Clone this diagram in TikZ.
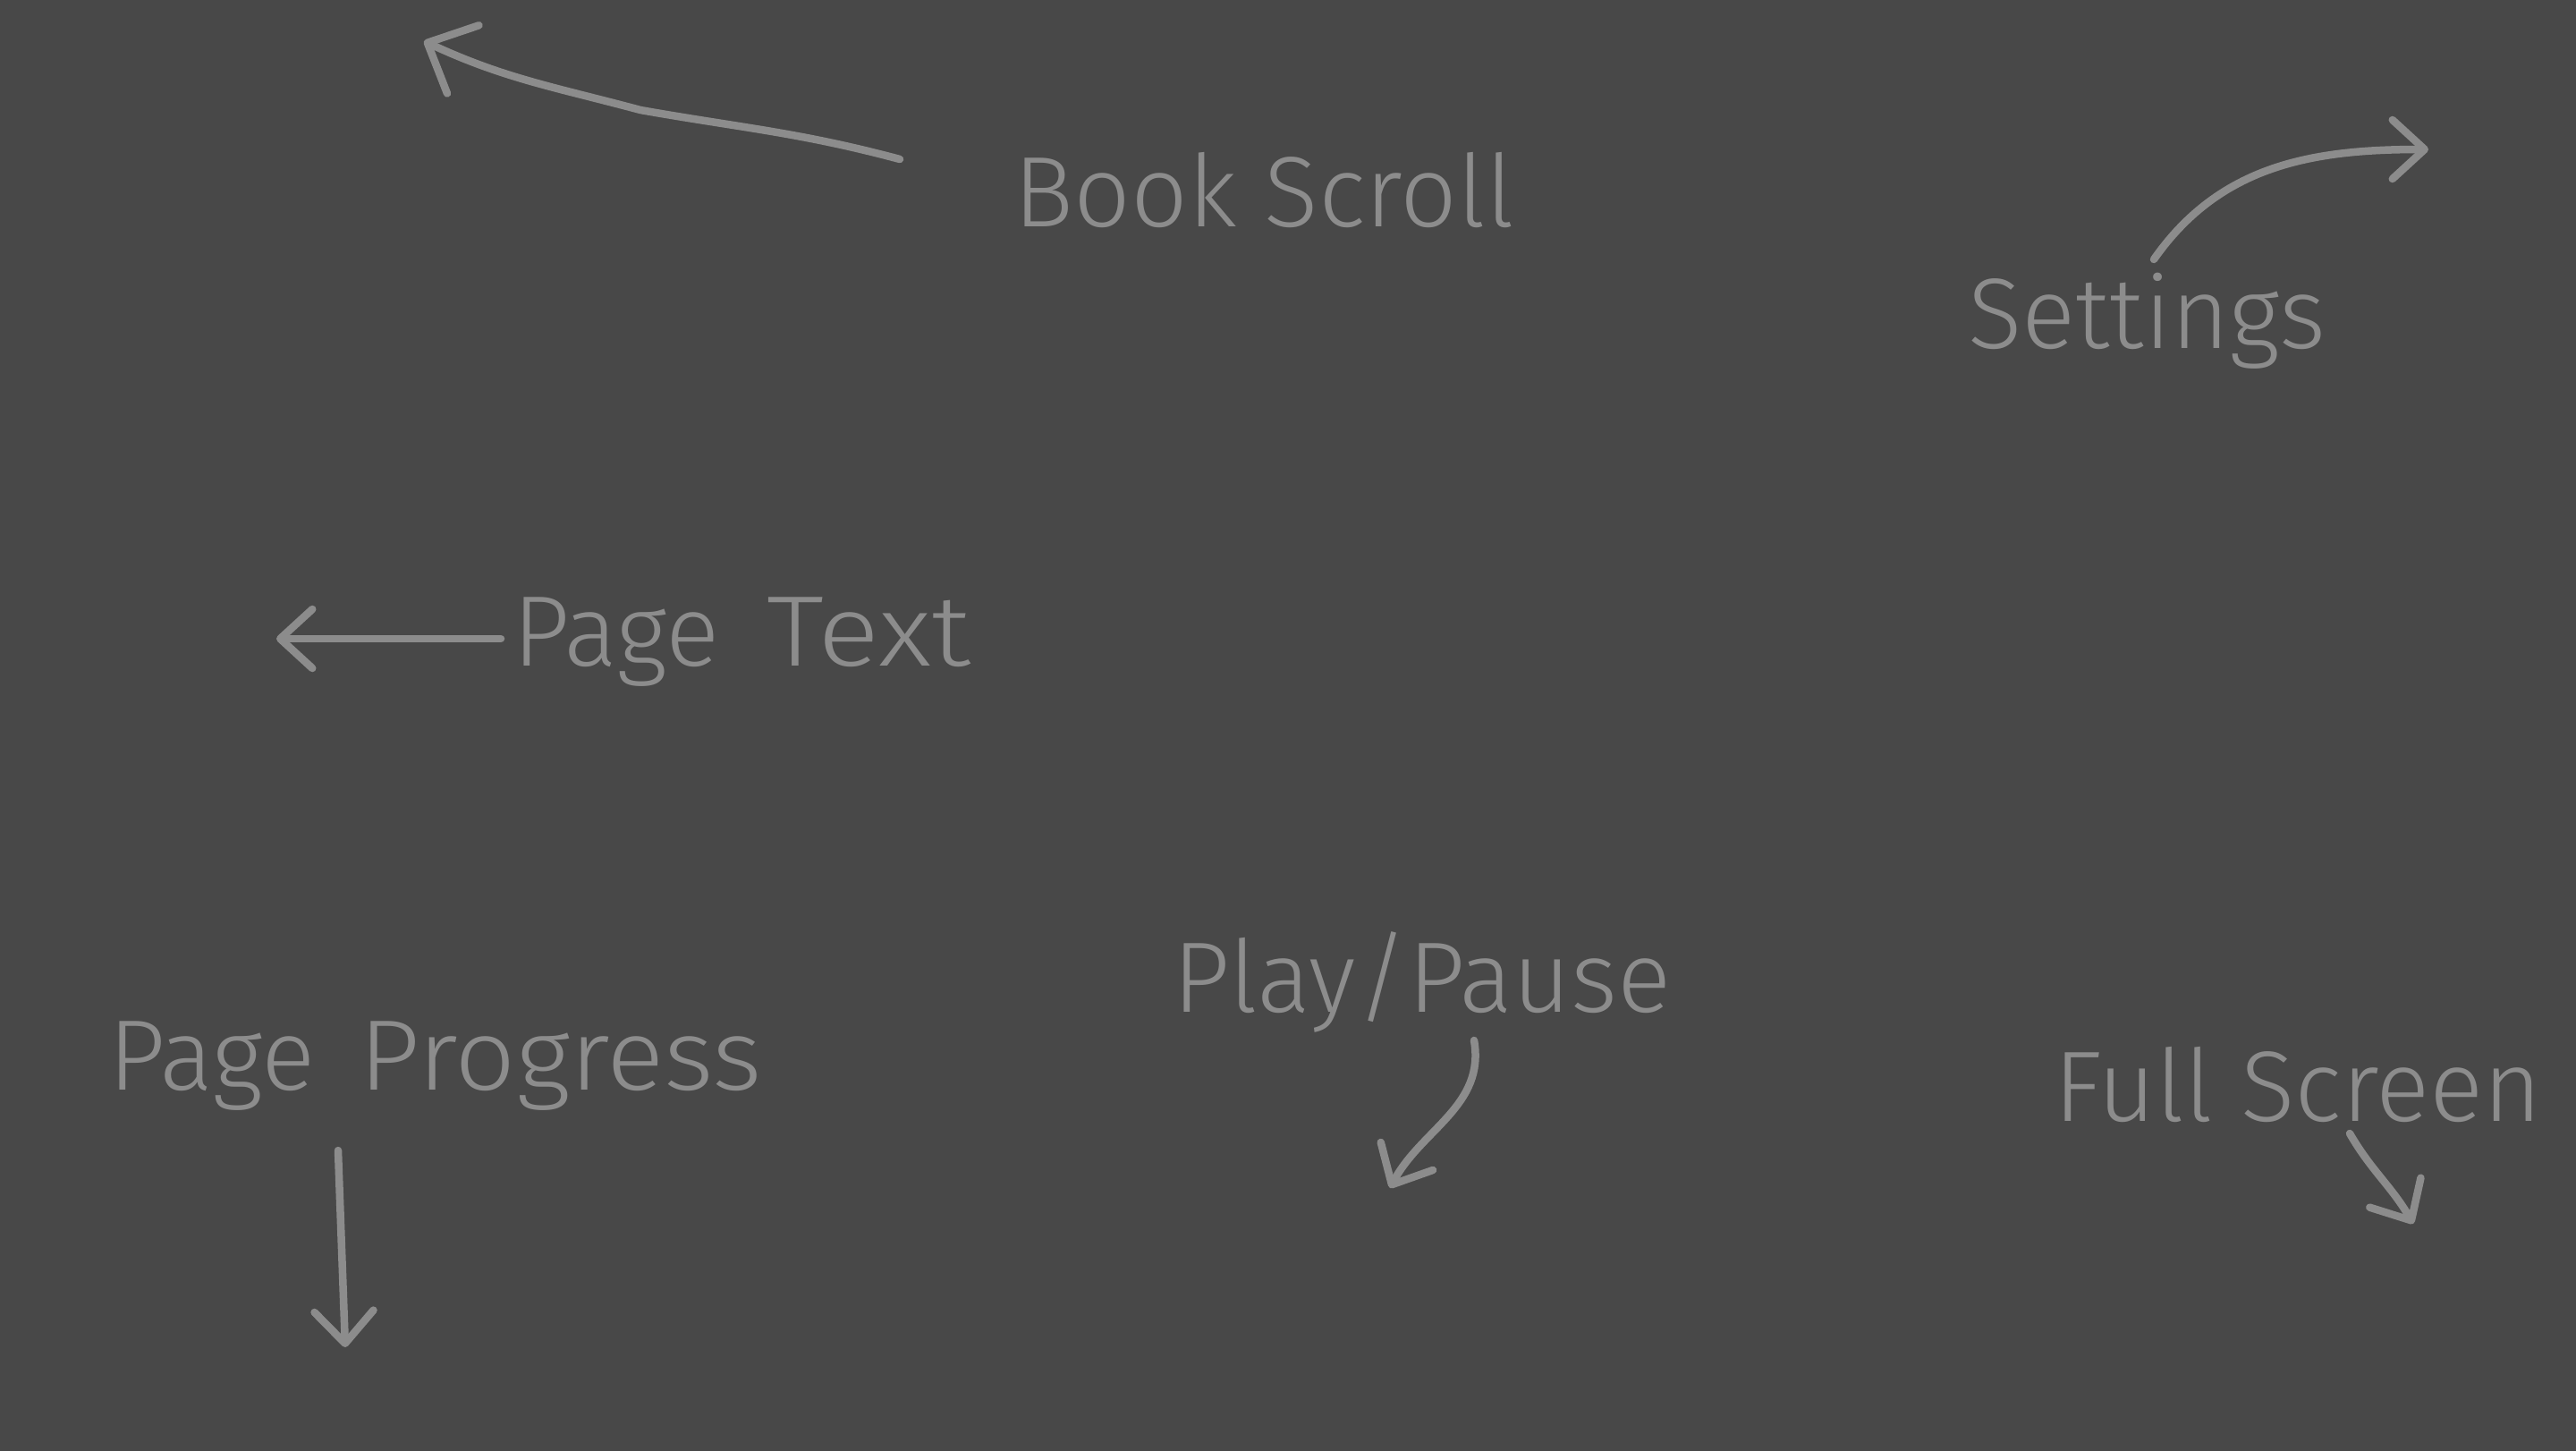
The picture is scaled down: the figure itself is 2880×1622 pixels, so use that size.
\documentclass[tikz,border=0pt]{standalone}
\usepackage{fontspec}
\setmainfont{Fira Sans Light}
\usetikzlibrary{arrows.meta}
\definecolor{bgc}{HTML}{484848}
\definecolor{ink}{HTML}{8C8C8C}
\begin{document}
\begin{tikzpicture}[x=1pt,y=1pt,
  lbl/.style={text=ink, font=\fontsize{112}{130}\selectfont, inner sep=0pt, anchor=base west},
  arr/.style={draw=ink, line width=8.5pt, line cap=round, line join=round,
    -{Straight Barb[length=36pt,width=66pt,round]}},
  bigarr/.style={arr, -{Straight Barb[length=44pt,width=84pt,round]}}]
\fill[bgc] (0,0) rectangle (2880,-1622);
\useasboundingbox (0,0) rectangle (2880,-1622);

\node[lbl] (book) at (1133,-253) {Book Scroll};
\node[lbl] (settings) at (2200,-389) {Settings};
\node[lbl] (pagetext) at (573,-744) {Page\hspace{22pt} \scalebox{1.15}[1]{Text}};
\node[lbl] (progress) at (121,-1218) {Page\hspace{18pt} \scalebox{1.07}[1]{Progress}};
\node[lbl] (play) at (1311,-1131) {Play/Pause};
\node[lbl] (full) at (2296,-1253) {Full Screen};

\coordinate (bs1) at (1006,-178);
\coordinate (bs2) at (474,-46);
\coordinate (st1) at (2408,-290);
\coordinate (st2) at (2715,-167);
\coordinate (pt1) at (560,-714);
\coordinate (pt2) at (309,-714);
\coordinate (pp1) at (378,-1286);
\coordinate (pp2) at (386,-1506);
\coordinate (pl1) at (1648,-1163);
\coordinate (pl2) at (1554,-1328);
\coordinate (fs1) at (2627,-1267);
\coordinate (fs2) at (2698,-1368);

\draw[bigarr] (bs1) to[out=165,in=-10] (716,-123) to[out=165,in=-25] (bs2);
\draw[arr] (st1) to[out=55,in=180] (st2);
\draw[arr] (pt1) -- (pt2);
\draw[arr] (pp1) -- (pp2);
\draw[arr] (pl1) to[out=-80,in=62] (pl2);
\draw[arr] (fs1) to[out=-60,in=120] (fs2);
\end{tikzpicture}
\end{document}
